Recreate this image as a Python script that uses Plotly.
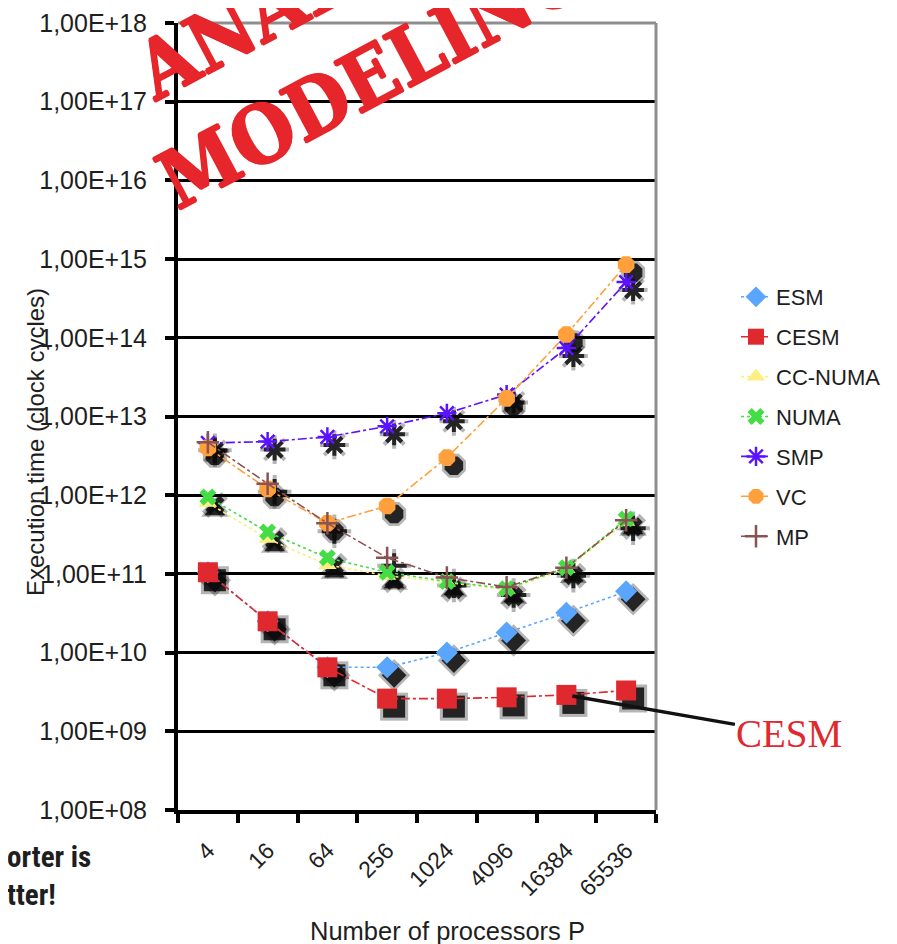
import numpy as np
import plotly.graph_objects as go

# ---------------- data ----------------
processors = ["4", "16", "64", "256", "1024", "4096", "16384", "65536"]
esm = [1.05e11, 2.5e10, 6.5e9, 6.5e9, 1.0e10, 1.8e10, 3.2e10, 6.0e10]
cesm = [1.05e11, 2.5e10, 6.5e9, 2.6e9, 2.6e9, 2.7e9, 2.9e9, 3.3e9]
cc_numa = [8.0e11, 2.8e11, 1.3e11, 9.5e10, 7.8e10, 6.3e10, 1.15e11, 4.6e11]
numa = [9.5e11, 3.4e11, 1.6e11, 1.05e11, 8.0e10, 6.5e10, 1.2e11, 5.0e11]
smp = [4.6e12, 4.8e12, 5.5e12, 7.5e12, 1.1e13, 1.9e13, 7.4e13, 5.1e14]
vc = [4.0e12, 1.2e12, 4.4e11, 7.3e11, 3.0e12, 1.7e13, 1.1e14, 8.5e14]
mp = [4.7e12, 1.4e12, 4.4e11, 1.6e11, 9.0e10, 6.8e10, 1.2e11, 4.8e11]

series_names = ["ESM", "CESM", "CC-NUMA", "NUMA", "SMP", "VC", "MP"]
series_values = [esm, cesm, cc_numa, numa, smp, vc, mp]
y_exponents = list(range(8, 19))
y_tick_vals = [10.0 ** e for e in y_exponents]
y_tick_text = ["1,00E+%02d" % e for e in y_exponents]

# ---------------- styles ----------------
colors = ["#5aa6ff", "#e0282f", "#fbef7e", "#45dd45", "#5a12ff", "#ffa03c", "#8a5252"]
symbols = ["diamond", "square", "triangle-up", "x", "asterisk-open", "octagon", "cross-thin-open"]
sizes = [17, 20, 16, 15, 16, 18, 16]
dashes = ["dot", "dashdot", "dot", "dot", "dashdot", "dashdot", "dashdot"]

FONT = "Liberation Sans, Arial, sans-serif"
NARROW = "Liberation Sans Narrow, Roboto Condensed, Liberation Sans, sans-serif"

# pixel geometry (layout only); the page body adds an 8 px offset
OFF = 8
FW, FH = 897 - OFF, 944 - OFF
L, T = 178 - OFF, 23 - OFF
PW, PH = 478, 787
R = FW - L - PW
B = FH - T - PH
SHX, SHY = 7, 8                       # shadow offset in pixels
cat_px = PW / len(processors)
dec_px = PH / (y_exponents[-1] - y_exponents[0])
x_rng = [-0.5, len(processors) - 0.5]
y_rng = [y_exponents[0], y_exponents[-1]]
x_rng_sh = [v - SHX / cat_px for v in x_rng]
y_rng_sh = [v + SHY / dec_px for v in y_rng]


def px(xs):
    """screen x pixel -> paper fraction"""
    return (xs - OFF - L) / PW


def py(ys):
    """screen y pixel -> paper fraction"""
    return (FH - B - (ys - OFF)) / PH


fig = go.Figure()

# empty carrier for the grid subplot (draws no marks)
fig.add_trace(go.Scatter(x=processors, y=[None] * len(processors), xaxis="x", yaxis="y",
                         showlegend=False, hoverinfo="skip", mode="lines"))

# soft drop shadows (two layers to imitate blur)
for vals, sym, sz in zip(series_values, symbols, sizes):
    is_open = "open" in sym
    for extra, alpha in [(8, 0.30), (2, 0.85)]:
        fig.add_trace(go.Scatter(
            x=processors, y=vals, xaxis="x2", yaxis="y2", mode="markers",
            marker=dict(symbol=sym, size=sz + extra, color="rgba(10,10,10,%.2f)" % alpha,
                        line=dict(width=(4 if is_open else 0), color="rgba(10,10,10,%.2f)" % alpha)),
            showlegend=False, hoverinfo="skip"))

# data series
for name, vals, col, sym, sz, dsh in zip(series_names, series_values, colors, symbols, sizes, dashes):
    is_open = "open" in sym
    fig.add_trace(go.Scatter(
        x=processors, y=vals, xaxis="x3", yaxis="y3", mode="lines+markers", name=name,
        legendgroup=name,
        line=dict(color=col, width=1.6, dash=dsh),
        marker=dict(symbol=sym, size=sz, color=col, line=dict(width=(2.5 if is_open else 0), color=col))))

cat_common = dict(type="category", categoryorder="array", categoryarray=processors)

fig.update_layout(
    template="none",
    width=FW, height=FH,
    margin=dict(l=L, r=R, t=T, b=B, autoexpand=False),
    paper_bgcolor="white", plot_bgcolor="white",
    font=dict(family=FONT, color="#1e1e1e"),
    xaxis=dict(**cat_common, range=x_rng, domain=[0, 1], anchor="y", automargin=False,
               showgrid=False, showline=True, linecolor="black", linewidth=4, zeroline=False,
               ticks="outside", tickson="boundaries", ticklen=9, tickwidth=4, tickcolor="black",
               tickangle=-45, tickfont=dict(size=23, family=FONT, color="#1e1e1e"),
               ticklabelstandoff=14),
    yaxis=dict(type="log", range=y_rng, domain=[0, 1], anchor="x", automargin=False,
               tickvals=y_tick_vals, ticktext=y_tick_text,
               showgrid=True, gridcolor="black", gridwidth=3, zeroline=False,
               showline=True, linecolor="black", linewidth=4,
               ticks="outside", ticklen=9, tickwidth=4, tickcolor="black",
               tickfont=dict(size=25, family=FONT, color="#1e1e1e"),
               ticklabelstandoff=13),
    xaxis2=dict(**cat_common, range=x_rng_sh, overlaying="x", anchor="y2", visible=False),
    yaxis2=dict(type="log", range=y_rng_sh, overlaying="y", anchor="x2", visible=False),
    xaxis3=dict(**cat_common, range=x_rng, overlaying="x", anchor="y3", visible=False),
    yaxis3=dict(type="log", range=y_rng, overlaying="y", anchor="x3", visible=False),
    legend=dict(x=px(736), y=py(276), xanchor="left", yanchor="top",
                font=dict(size=22, family=FONT, color="#1e1e1e"),
                tracegroupgap=8.3, bgcolor="rgba(0,0,0,0)", borderwidth=0, itemwidth=30),
    showlegend=True,
)

# gray frame on top and right
fig.add_shape(type="line", xref="x domain", yref="y domain", x0=0, x1=1, y0=1, y1=1,
              line=dict(color="#8e8e8e", width=3), layer="above")
fig.add_shape(type="line", xref="x domain", yref="y domain", x0=1, x1=1, y0=0, y1=1,
              line=dict(color="#8e8e8e", width=3), layer="above")

# axis titles
fig.add_annotation(text="Number of processors P", xref="paper", yref="paper",
                   x=px(447), y=py(931), xanchor="center", yanchor="middle", showarrow=False,
                   borderpad=0, font=dict(size=25.5, family=FONT, color="#1e1e1e"))
fig.add_annotation(text="Execution time (clock cycles)", xref="paper", yref="paper",
                   x=px(35), y=py(442), xanchor="center", yanchor="middle", showarrow=False,
                   textangle=-90, font=dict(size=24, family=FONT, color="#1e1e1e"))

# visible part of the "Shorter is better!" note (cut by the slide edge)
fig.add_annotation(text="orter is<br>tter!", xref="paper", yref="paper",
                   x=px(6), y=py(839), xanchor="left", yanchor="top", align="left",
                   showarrow=False, borderpad=0,
                   font=dict(size=29, family=NARROW, color="#1e1e1e", weight="bold"))

# stamp watermark
RED = "#e6262b"
stroke = "1px 0 0 %s, -1px 0 0 %s, 0 1px 0 %s, 0 -1px 0 %s" % (RED, RED, RED, RED)
stamp_font = dict(size=80, family="DejaVu Serif Condensed, DejaVu Serif, Liberation Serif, serif",
                  color=RED, weight="bold", shadow=stroke)
fig.add_annotation(text="MODELING", xref="paper", yref="paper", x=px(372), y=py(76),
                   xanchor="center", yanchor="middle", showarrow=False, textangle=-28, font=stamp_font)
fig.add_annotation(text="ANALYTICAL", xref="paper", yref="paper", x=px(374), y=py(-46),
                   xanchor="center", yanchor="middle", showarrow=False, textangle=-28, font=stamp_font)

# CESM callout pointing at the CESM point for 16384 processors
idx = processors.index("16384")
fig.add_annotation(text="CESM", xref="x3", yref="y3", x=idx, y=np.log10(cesm[idx]),
                   ax=223, ay=39, showarrow=True, arrowhead=0, arrowwidth=3.5, arrowcolor="#111",
                   standoff=6,
                   font=dict(size=39, family="Liberation Serif, serif", color="#e0282f"))

fig.write_html("out.html")
